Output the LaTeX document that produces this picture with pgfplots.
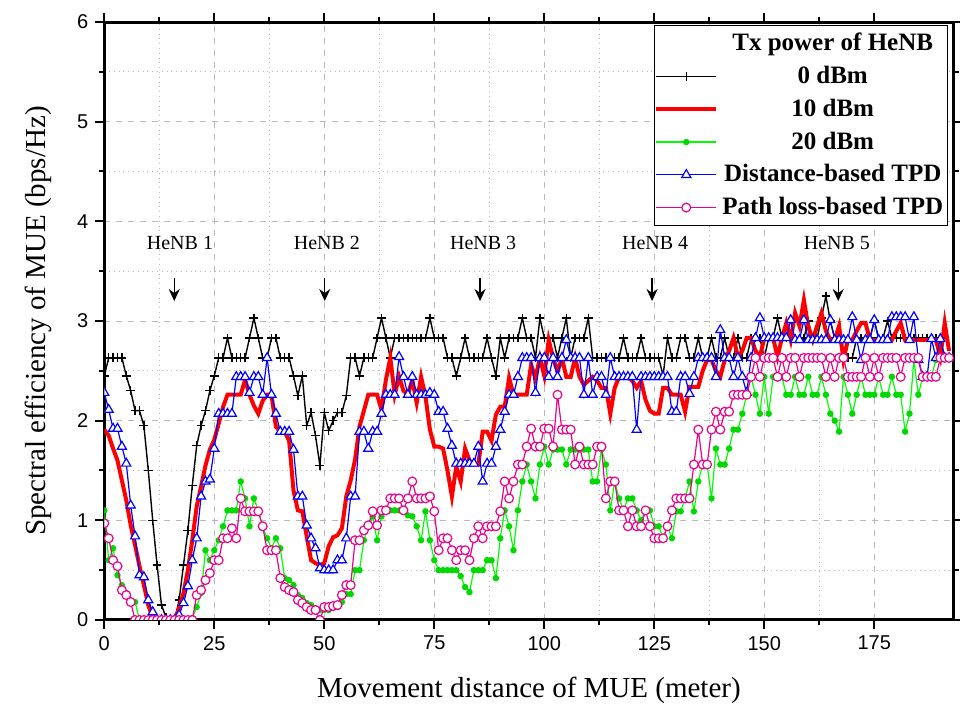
\documentclass[border=0pt]{standalone}
\usepackage{fontspec}
\setmainfont{Liberation Serif}
\setsansfont{Liberation Sans}
\usepackage{pgfplots}
\usepackage{pgfplotstable}
\pgfplotsset{compat=1.18}
\usetikzlibrary{arrows.meta}

% x, 0 dBm, 10 dBm, 20 dBm, distance-based TPD, path loss-based TPD
\pgfplotstableread{
x p0 p10 p20 dist pl
0 2.45 1.91 1.10 2.28 0.97
1 2.63 1.85 0.60 2.11 0.82
2 2.63 1.72 0.72 1.92 0.60
3 2.63 1.60 0.45 1.92 0.54
4 2.63 1.40 0.35 1.74 0.30
5 2.45 1.20 0.27 1.57 0.25
6 2.30 0.95 0.18 1.15 0.18
7 2.10 0.75 0.18 0.84 0.00
8 2.10 0.54 0.00 0.45 0.00
9 1.95 0.35 0.00 0.43 0.00
10 1.50 0.15 0.00 0.20 0.00
11 1.00 0.02 0.00 0.08 0.00
12 0.55 0.00 0.00 0.00 0.00
13 0.15 0.00 0.00 0.00 0.00
14 0.03 0.00 0.00 0.00 0.00
15 0.00 0.00 0.00 0.00 0.00
16 0.00 0.00 0.00 0.00 0.00
17 0.20 0.12 0.00 0.05 0.00
18 0.55 0.27 0.00 0.17 0.00
19 0.90 0.50 0.00 0.34 0.00
20 1.35 0.80 0.02 0.60 0.00
21 1.75 1.14 0.13 0.82 0.25
22 1.95 1.34 0.27 1.24 0.30
23 2.10 1.55 0.70 1.39 0.40
24 2.30 1.71 0.60 1.41 0.47
25 2.45 1.81 0.70 1.72 0.60
26 2.63 1.97 0.80 2.07 0.60
27 2.63 2.14 0.94 2.07 0.82
28 2.83 2.26 1.10 2.07 0.82
29 2.63 2.26 1.10 2.07 0.92
30 2.63 2.26 1.10 2.44 0.82
31 2.63 2.26 1.39 2.44 1.22
32 2.63 2.41 1.22 2.44 1.09
33 2.83 2.26 0.94 2.28 1.09
34 3.03 2.15 1.22 2.44 1.09
35 2.83 2.07 1.10 2.44 1.09
36 2.63 2.20 0.94 2.26 0.94
37 2.63 2.26 0.82 2.63 0.70
38 2.83 2.26 0.72 2.26 0.70
39 2.83 1.94 0.82 2.07 0.70
40 2.63 1.89 0.72 1.89 0.42
41 2.63 1.89 0.42 1.89 0.33
42 2.63 1.80 0.40 1.89 0.30
43 2.45 1.30 0.35 1.71 0.28
44 2.25 1.10 0.25 1.24 0.20
45 2.45 1.09 0.22 1.24 0.17
46 1.95 0.84 0.17 0.95 0.13
47 2.08 0.60 0.15 0.82 0.10
48 1.85 0.57 0.12 0.72 0.10
49 1.55 0.55 0.10 0.52 0.00
50 2.08 0.57 0.10 0.50 0.13
51 1.90 0.74 0.10 0.50 0.13
52 2.00 0.83 0.12 0.50 0.14
53 2.08 0.85 0.13 0.60 0.15
54 2.08 0.92 0.18 0.60 0.25
55 2.25 1.24 0.26 0.82 0.35
56 2.63 1.40 0.26 1.24 0.35
57 2.63 1.61 0.50 1.24 0.80
58 2.45 1.94 0.50 1.89 0.80
59 2.63 2.10 0.80 1.89 0.90
60 2.63 2.26 0.94 1.72 0.95
61 2.63 2.26 1.04 1.89 1.09
62 2.83 2.26 0.80 1.89 0.95
63 3.03 2.11 1.04 2.07 1.10
64 2.83 2.41 1.10 2.26 1.10
65 2.63 2.63 1.10 2.26 1.22
66 2.83 2.26 1.10 2.26 1.22
67 2.83 2.44 1.10 2.64 1.22
68 2.83 2.30 1.10 2.44 1.10
69 2.83 2.26 1.05 2.26 1.22
70 2.83 2.41 1.04 2.44 1.39
71 2.83 2.18 0.94 2.26 1.22
72 2.83 2.44 0.80 2.26 1.22
73 2.83 2.24 1.09 2.26 1.22
74 3.03 1.91 0.80 2.28 1.24
75 2.83 1.74 0.60 2.26 1.09
76 2.83 1.74 0.50 2.09 0.70
77 2.83 1.72 0.50 2.09 0.82
78 2.63 1.50 0.50 1.92 0.82
79 2.63 1.24 0.50 1.75 0.70
80 2.45 1.54 0.50 1.57 0.60
81 2.63 1.39 0.44 1.57 0.70
82 2.83 1.72 0.33 1.57 0.70
83 2.63 1.60 0.28 1.57 0.60
84 2.63 1.56 0.50 1.57 0.82
85 2.63 1.56 0.50 1.74 0.94
86 2.63 1.89 0.50 1.39 0.82
87 2.83 1.89 0.60 1.57 0.94
88 2.63 1.80 0.60 1.57 0.94
89 2.45 2.06 0.42 1.74 0.94
90 2.83 2.14 0.82 1.91 1.09
91 2.63 2.14 1.10 2.09 1.39
92 2.83 2.43 0.94 2.26 1.22
93 2.83 2.26 0.70 2.26 1.39
94 2.83 2.26 1.10 2.44 1.56
95 3.03 2.26 1.39 2.63 1.56
96 2.83 2.26 1.56 2.63 1.74
97 2.83 2.56 1.39 2.63 1.92
98 2.63 2.43 1.22 2.28 1.74
99 3.03 2.63 1.56 2.63 1.74
100 2.83 2.45 1.74 2.63 1.92
101 2.83 2.81 1.56 2.44 1.92
102 2.83 2.63 1.71 2.63 1.74
103 2.63 2.49 1.71 2.44 2.26
104 2.83 2.63 1.71 2.63 1.91
105 3.03 2.44 1.56 2.81 1.91
106 2.63 2.44 1.71 2.63 1.91
107 2.83 2.63 1.71 2.63 1.56
108 2.83 2.44 1.71 2.63 1.74
109 2.83 2.36 1.71 2.26 1.56
110 3.03 2.40 1.71 2.63 1.56
111 2.63 2.44 1.39 2.26 1.56
112 2.63 2.40 1.39 2.44 1.74
113 2.63 2.33 1.71 2.44 1.74
114 2.63 2.33 1.56 2.26 1.22
115 2.63 2.07 1.10 2.63 1.39
116 2.63 2.33 1.39 2.44 1.39
117 2.63 2.44 1.22 2.44 1.10
118 2.83 2.44 1.10 2.44 1.10
119 2.63 2.44 1.22 2.44 0.94
120 2.63 2.40 1.22 2.44 1.10
121 2.63 2.33 1.10 1.91 0.94
122 2.83 2.40 1.00 2.44 0.94
123 2.63 2.21 1.10 2.44 1.10
124 2.63 2.10 1.10 2.44 0.94
125 2.63 2.07 0.94 2.44 0.82
126 2.63 2.07 0.94 2.44 0.82
127 2.45 2.33 0.82 2.44 0.82
128 2.83 2.33 0.94 2.44 0.94
129 2.63 2.26 0.82 2.09 1.10
130 2.63 2.26 1.09 2.09 1.22
131 2.83 2.26 1.09 2.44 1.22
132 2.83 2.09 1.22 2.44 1.22
133 2.63 2.34 1.39 2.27 1.22
134 2.63 2.34 1.09 2.44 1.56
135 2.83 2.34 1.39 2.63 1.91
136 2.63 2.50 1.56 2.63 1.56
137 2.63 2.61 1.56 2.63 1.56
138 2.83 2.61 1.22 2.63 1.91
139 2.63 2.50 1.72 2.44 2.09
140 2.63 2.44 1.56 2.91 1.91
141 2.83 2.61 1.56 2.63 2.09
142 2.63 2.70 1.72 2.63 2.09
143 2.63 2.83 1.91 2.44 2.26
144 2.83 2.64 1.91 2.63 2.26
145 2.63 2.70 2.07 2.44 2.26
146 2.63 2.83 2.26 2.28 2.26
147 2.83 2.83 2.44 2.63 2.44
148 2.83 2.70 2.26 2.83 2.63
149 2.83 2.64 2.07 3.03 2.44
150 2.63 2.83 2.44 2.83 2.63
151 2.83 2.83 2.07 2.83 2.63
152 2.83 2.83 2.44 2.83 2.63
153 3.03 2.64 2.44 2.83 2.44
154 2.83 2.83 2.44 2.83 2.63
155 2.83 2.98 2.26 2.83 2.44
156 2.83 2.81 2.26 3.01 2.63
157 2.83 3.08 2.44 2.81 2.63
158 2.83 2.95 2.26 2.81 2.44
159 2.83 3.21 2.26 3.01 2.63
160 3.00 2.94 2.44 2.81 2.63
161 2.83 2.81 2.26 2.81 2.63
162 2.83 2.95 2.26 2.81 2.63
163 3.03 3.08 2.44 2.81 2.63
164 3.25 2.90 2.26 2.81 2.44
165 3.00 2.81 2.07 3.01 2.63
166 2.83 2.81 2.00 2.81 2.44
167 2.83 2.95 1.89 2.81 2.63
168 2.63 2.61 2.44 2.81 2.63
169 2.63 2.81 2.26 2.81 2.44
170 2.63 2.81 2.07 3.04 2.44
171 2.83 2.90 2.26 2.81 2.44
172 2.83 2.98 2.44 2.61 2.44
173 2.83 2.98 2.26 2.81 2.63
174 2.83 2.81 2.26 2.81 2.44
175 3.00 2.81 2.26 3.01 2.63
176 2.83 2.81 2.44 2.81 2.44
177 2.83 2.81 2.26 2.81 2.63
178 3.00 2.81 2.26 2.81 2.63
179 2.83 2.81 2.44 3.04 2.63
180 2.83 2.90 2.26 3.04 2.63
181 2.83 2.98 2.26 3.04 2.44
182 2.83 2.81 1.89 3.04 2.63
183 2.83 2.81 2.07 2.81 2.63
184 2.83 2.81 2.61 3.04 2.63
185 2.83 2.81 2.26 2.61 2.63
186 2.83 2.81 2.44 2.44 2.44
187 2.83 2.81 2.44 2.44 2.44
188 2.83 2.81 2.44 2.82 2.44
189 2.83 2.81 2.61 2.63 2.44
190 2.83 2.64 2.64 2.82 2.63
191 2.63 2.98 2.63 2.63 2.63
192 2.63 2.70 2.63 2.63 2.63
}\data

\begin{document}
\begin{tikzpicture}
\begin{axis}[
  name=ax,
  scale only axis,
  width=424.6pt, height=299pt,
  xmin=0, xmax=193, ymin=0, ymax=6,
  xtick={0,25,...,175}, ytick={0,1,...,6},
  minor x tick num=1, minor y tick num=1,
  tick align=outside,
  major tick length=4.5pt, minor tick length=2.5pt,
  every tick/.style={black, line width=1pt},
  axis line style={line width=1.5pt},
  grid=both,
  major grid style={gray!55, dashed, line width=0.4pt},
  minor grid style={gray!55, dotted, line width=0.5pt},
  ticklabel style={font=\sffamily\fontsize{10}{12}\selectfont},
  /pgf/number format/assume math mode=true,
  xlabel={Movement distance of MUE (meter)},
  ylabel={Spectral efficiency of MUE (bps/Hz)},
  label style={font=\fontsize{14.5}{17}\selectfont},
  xlabel style={at={(axis description cs:0.5,-0.117)}, anchor=center},
  ylabel style={at={(axis description cs:-0.078,0.5)}, anchor=center},
  clip marker paths=true,
  legend style={at={(rel axis cs:0.993,0.995)}, anchor=north east,
    font=\bfseries\fontsize{12.5}{15}\selectfont, draw=black,
    inner xsep=0pt, inner ysep=2pt, row sep=2.2pt},
  legend cell align=center,
  legend image code/.code={\draw[mark repeat=2,mark phase=2,#1]
    plot coordinates {(0pt,0pt) (15pt,0pt) (30pt,0pt)};},
]
\addlegendimage{empty legend}
\addlegendentry{Tx power of HeNB}

\addplot[black, line width=0.7pt, mark=+, mark size=2.2pt] table[x=x, y=p0] {\data};
\addlegendentry{0 dBm}

\addplot[red, line width=2pt, no markers] table[x=x, y=p10] {\data};
\addlegendentry{10 dBm}

\addplot[green, line width=0.6pt, mark=*, mark size=1.3pt,
  mark options={fill=green!85!black, draw=green!85!black}] table[x=x, y=p20] {\data};
\addlegendentry{20 dBm}

\addplot[blue, line width=0.6pt, mark=triangle*, mark size=2.6pt,
  mark options={fill=white}] table[x=x, y=dist] {\data};
\addlegendentry{Distance-based TPD}

\addplot[magenta, line width=0.6pt, mark=*, mark size=2.2pt,
  mark options={fill=white}] table[x=x, y=pl] {\data};
\addlegendentry{Path loss-based TPD}

% HeNB positions
\node[font=\fontsize{10}{12}\selectfont] at (axis cs:17.2,3.785) {HeNB 1};
\node[font=\fontsize{10}{12}\selectfont] at (axis cs:50.6,3.785) {HeNB 2};
\node[font=\fontsize{10}{12}\selectfont] at (axis cs:86.1,3.785) {HeNB 3};
\node[font=\fontsize{10}{12}\selectfont] at (axis cs:125.2,3.785) {HeNB 4};
\node[font=\fontsize{10}{12}\selectfont] at (axis cs:166.5,3.785) {HeNB 5};
\draw[-{Stealth[length=6pt,width=5.5pt]}, line width=0.6pt] (axis cs:15.9,3.43) -- (axis cs:15.9,3.20);
\draw[-{Stealth[length=6pt,width=5.5pt]}, line width=0.6pt] (axis cs:50.1,3.43) -- (axis cs:50.1,3.20);
\draw[-{Stealth[length=6pt,width=5.5pt]}, line width=0.6pt] (axis cs:85.4,3.43) -- (axis cs:85.4,3.20);
\draw[-{Stealth[length=6pt,width=5.5pt]}, line width=0.6pt] (axis cs:124.5,3.43) -- (axis cs:124.5,3.20);
\draw[-{Stealth[length=6pt,width=5.5pt]}, line width=0.6pt] (axis cs:166.8,3.43) -- (axis cs:166.8,3.20);
\end{axis}
\pgfresetboundingbox
\path[use as bounding box] ([xshift=-52.15pt,yshift=-42.5pt]ax.south west)
  rectangle ([xshift=3.25pt,yshift=11pt]ax.north east);
\end{tikzpicture}
\end{document}
